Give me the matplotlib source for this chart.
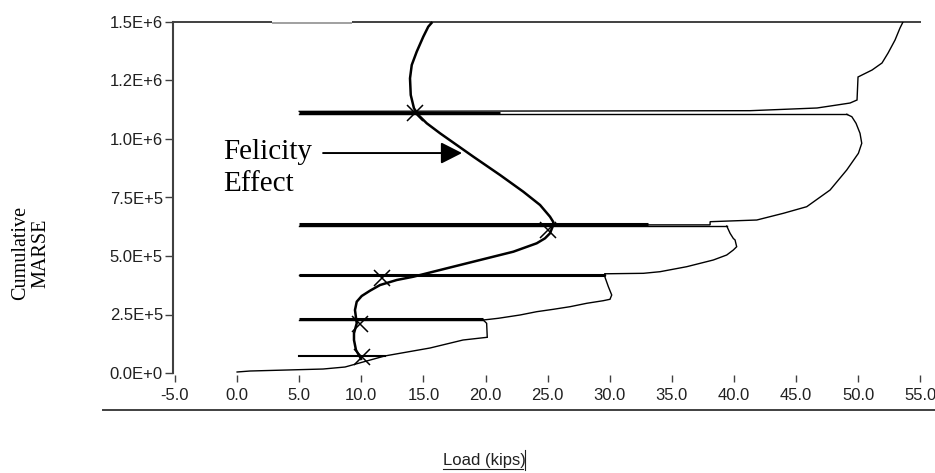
import matplotlib
matplotlib.use("Agg")
import matplotlib.pyplot as plt
from matplotlib.lines import Line2D
from matplotlib.ticker import FixedLocator, FixedFormatter

# ---------------- data (load in kips, cumulative MARSE) ----------------
x_ticks = [-5, 0, 5, 10, 15, 20, 25, 30, 35, 40, 45, 50, 55]
x_tick_labels = ["-5.0", "0.0", "5.0", "10.0", "15.0", "20.0", "25.0",
                 "30.0", "35.0", "40.0", "45.0", "50.0", "55.0"]
y_ticks = [0, 2.5e5, 5.0e5, 7.5e5, 1.0e6, 1.25e6, 1.5e6]
y_tick_labels = ["0.0E+0", "2.5E+5", "5.0E+5", "7.5E+5", "1.0E+6", "1.2E+6", "1.5E+6"]

# loading / reloading segments of the cumulative MARSE history
seg1_load = [0.0, 1.04, 6.92, 8.69, 10.14, 11.91, 15.53, 18.19, 20.14, 20.09, 19.82]
seg1_marse = [4.3e3, 8.5e3, 17e3, 25.6e3, 47e3, 73e3, 106.8e3, 141e3, 152.6e3, 212.4e3, 226.5e3]

seg2_load = [19.82, 21.03, 22.78, 24.12, 25.46, 26.80, 28.15, 29.48, 30.02, 30.16, 29.89, 29.62, 29.62]
seg2_marse = [226.5e3, 233.8e3, 247.9e3, 262e3, 272.2e3, 283.3e3, 297.9e3, 309e3, 315e3,
              333.3e3, 368.8e3, 409e3, 424e3]

seg3_load = [29.62, 32.71, 34.05, 36.20, 38.34, 39.42, 39.95, 40.22, 40.09, 39.95, 39.69, 39.42]
seg3_marse = [424e3, 426e3, 432.9e3, 454.3e3, 482.9e3, 504.3e3, 525.6e3, 539.7e3, 568.4e3,
              575e3, 597e3, 628.2e3]

seg4_load = [33.08, 38.08, 38.08, 41.84, 43.98, 45.86, 47.74, 49.08, 50.02, 50.29, 50.15,
             49.83, 49.49, 49.08]
seg4_marse = [633e3, 633e3, 646.6e3, 653.8e3, 682.5e3, 710.7e3, 782e3, 867.5e3, 938.9e3,
              981.6e3, 1024.4e3, 1067.1e3, 1095.3e3, 1105.5e3]

seg5_load = [5.0, 41.3, 46.69, 48.3, 49.35, 49.91, 49.99, 50.31, 51.12, 51.92, 52.41, 52.97,
             53.37, 53.61]
seg5_marse = [1118e3, 1121e3, 1132.5e3, 1145.3e3, 1153.8e3, 1166.7e3, 1265e3, 1273.5e3,
              1294.8e3, 1324.8e3, 1367.5e3, 1423e3, 1474.4e3, 1500e3]

# unloading lines (thin): constant MARSE back to 5 kips
unload_start = [5.0, 5.0, 5.0, 5.0, 5.0]
unload_end = [11.91, 19.82, 29.62, 39.42, 49.08]
unload_marse = [73.5e3, 226.5e3, 420e3, 628.2e3, 1105.5e3]

# thick reload reference lines
thick_start = [5.0, 5.0, 5.0, 5.0]
thick_end = [19.82, 29.62, 33.08, 21.17]
thick_marse = [229.5e3, 416.7e3, 636.8e3, 1113.2e3]

# Felicity effect curve
fel_load = [10.03, 9.57, 9.41, 9.41, 9.63, 9.49, 9.63, 10.03, 10.70, 11.51, 12.85, 14.19,
            16.88, 19.56, 22.24, 24.12, 24.79, 25.19, 25.40, 25.46, 25.19, 24.39, 23.04,
            21.17, 19.02, 17.68, 16.34, 15.27, 14.59, 14.24, 13.98, 13.92, 14.06, 14.46,
            14.99, 15.39, 15.72]
fel_marse = [55.6e3, 98.3e3, 141e3, 169.7e3, 212.4e3, 269.2e3, 304.7e3, 329e3, 351.7e3,
             376e3, 397.4e3, 411.5e3, 447.4e3, 482.9e3, 518.4e3, 554.3e3, 575.6e3, 597e3,
             625e3, 645e3, 668e3, 718e3, 774.8e3, 846.1e3, 924.4e3, 974.4e3, 1024.4e3,
             1067.1e3, 1102.6e3, 1131.2e3, 1188e3, 1259.4e3, 1316.2e3, 1373.1e3, 1437.2e3,
             1479.9e3, 1500e3]

# onset markers
onset_load = [10.03, 9.90, 11.64, 25.06, 14.32]
onset_marse = [66.7e3, 209e3, 404.7e3, 611e3, 1109.8e3]

# ---------------- figure ----------------
W, H = 935, 473
fig = plt.figure(figsize=(W / 100, H / 100), dpi=100)
ax = fig.add_axes([173 / W, 100 / H, 748 / W, 351 / H])
ax.set_xlim(-5.161, 55.06)
ax.set_ylim(0, 1.5e6)

axis_col = "#404040"
tick_font = dict(family="Liberation Sans", size=12)

for s in ["top", "right", "bottom"]:
    ax.spines[s].set_visible(False)
ax.spines["bottom"].set_position(("outward", 1.5))
ax.spines["left"].set_color(axis_col)
ax.spines["left"].set_linewidth(1.5)

ax.xaxis.set_major_locator(FixedLocator(x_ticks))
ax.xaxis.set_major_formatter(FixedFormatter(x_tick_labels))
ax.yaxis.set_major_locator(FixedLocator(y_ticks))
ax.yaxis.set_major_formatter(FixedFormatter(y_tick_labels))
ax.tick_params(axis="x", direction="out", length=5, width=1.0, color=axis_col, pad=4,
               labelcolor="#202020")
ax.tick_params(axis="y", direction="out", length=5.5, width=1.0, color=axis_col, pad=1.7,
               labelcolor="#202020")
for lab in ax.get_xticklabels() + ax.get_yticklabels():
    lab.set_fontfamily("Liberation Sans")
    lab.set_fontsize(12)

# top border with its lighter gap
ax.hlines(1.5e6, -5.161, 2.81, color=axis_col, lw=1.4, clip_on=False)
ax.hlines(1.5e6, 9.25, 55.06, color=axis_col, lw=1.4, clip_on=False)
ax.hlines(1.4936e6, 2.81, 9.25, color="#a0a0a0", lw=1.4, clip_on=False)

# cumulative MARSE history (thin)
for lx, ly in [(seg1_load, seg1_marse), (seg2_load, seg2_marse), (seg3_load, seg3_marse),
               (seg4_load, seg4_marse), (seg5_load, seg5_marse)]:
    ax.plot(lx, ly, color="black", lw=1.0, solid_joinstyle="miter")
for i, (a, b, m) in enumerate(zip(unload_start, unload_end, unload_marse)):
    ax.plot([a, b], [m, m], color="black", lw=1.5 if i == 0 else 1.0)

# thick reload lines
for a, b, m in zip(thick_start, thick_end, thick_marse):
    ax.plot([a, b], [m, m], color="black", lw=2.2, solid_capstyle="butt")

# Felicity curve and onset markers
ax.plot(fel_load, fel_marse, color="black", lw=1.8, solid_capstyle="butt", clip_on=False)
ax.plot(onset_load, onset_marse, linestyle="none", marker="x", ms=11, mew=1.1, color="black")

# annotation
serif = dict(family="Liberation Serif", size=21)
ax.text(-1.1, 914.5e3, "Felicity", va="baseline", ha="left", **serif)
ax.text(-1.1, 777.8e3, "Effect", va="baseline", ha="left", **serif)
ax.annotate("", xy=(18.11, 940e3), xytext=(6.92, 940e3),
            arrowprops=dict(arrowstyle="-|>,head_length=0.65,head_width=0.33", lw=1.4,
                            color="black", shrinkA=0, shrinkB=0, mutation_scale=20))

# y label
fig.text(31 / W, 1 - 253 / H, "Cumulative\nMARSE", rotation=90, ha="center", va="center",
         family="Liberation Serif", size=14.5, linespacing=1.1)

# separator line and x label
fig.add_artist(Line2D([103 / W, 1.0], [1 - 410 / H, 1 - 410 / H], transform=fig.transFigure,
                      color=axis_col, lw=1.4))
fig.text(443 / W, 1 - 465 / H, "Load (kips)", ha="left", va="baseline",
         family="Liberation Sans", size=12, color="#202020")
fig.add_artist(Line2D([443 / W, 523 / W], [1 - 468.5 / H, 1 - 468.5 / H],
                      transform=fig.transFigure, color="#202020", lw=0.8))
fig.add_artist(Line2D([525 / W, 525 / W], [1 - 450 / H, 1 - 470 / H],
                      transform=fig.transFigure, color="#202020", lw=0.8))

fig.savefig("out.png", dpi=100)
